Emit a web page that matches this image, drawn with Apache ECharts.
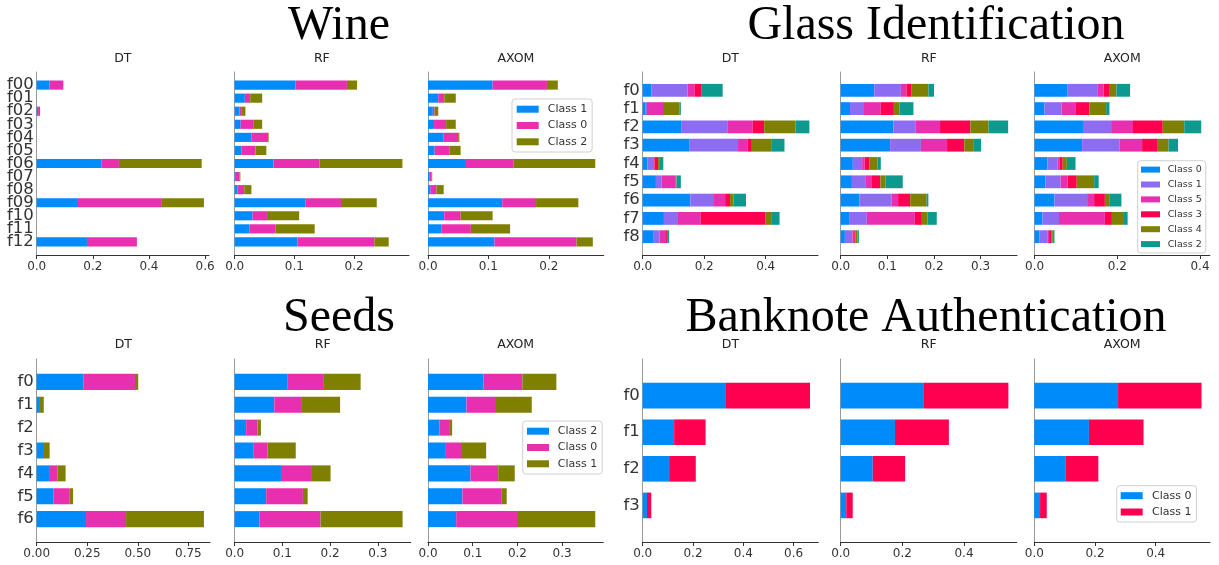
<!DOCTYPE html>
<html>
<head>
<meta charset="utf-8">
<script src="https://cdn.jsdelivr.net/npm/echarts@6/dist/echarts.min.js"></script>
<style>
html, body { margin: 0; padding: 0; background: #fff; }
#chart { width: 1219px; height: 565px; }
</style>
</head>
<body>
<div id="chart"></div>
<script>
// ---------- data: per-class feature importance, one inner list per class ----------
const modelNames = ['DT', 'RF', 'AXOM'];

// Wine
const wineFeatures = ['f00', 'f01', 'f02', 'f03', 'f04', 'f05', 'f06', 'f07', 'f08', 'f09', 'f10', 'f11', 'f12'];
const wineClasses = ['Class 1', 'Class 0', 'Class 2'];
const wineDT = [
  [0.046, 0, 0.005, 0, 0, 0, 0.230, 0, 0, 0.147, 0, 0, 0.179],
  [0.049, 0, 0.007, 0, 0, 0, 0.063, 0, 0, 0.299, 0, 0, 0.178],
  [0, 0, 0, 0, 0, 0, 0.295, 0, 0, 0.150, 0, 0, 0]
];
const wineRF = [
  [0.102, 0.017, 0.008, 0.010, 0.028, 0.011, 0.065, 0.002, 0.005, 0.119, 0.030, 0.025, 0.105],
  [0.086, 0.009, 0.004, 0.021, 0.028, 0.024, 0.077, 0.006, 0.011, 0.059, 0.024, 0.043, 0.129],
  [0.017, 0.020, 0.006, 0.015, 0.001, 0.018, 0.139, 0.0015, 0.012, 0.060, 0.054, 0.066, 0.024]
];
const wineAXOM = [
  [0.107, 0.017, 0.008, 0.010, 0.026, 0.011, 0.063, 0.002, 0.004, 0.123, 0.027, 0.022, 0.110],
  [0.090, 0.010, 0.003, 0.020, 0.024, 0.025, 0.079, 0.004, 0.010, 0.056, 0.027, 0.049, 0.136],
  [0.018, 0.019, 0.006, 0.016, 0.002, 0.018, 0.135, 0.001, 0.012, 0.070, 0.053, 0.065, 0.027]
];

// Glass Identification
const glassFeatures = ['f0', 'f1', 'f2', 'f3', 'f4', 'f5', 'f6', 'f7', 'f8'];
const glassClasses = ['Class 0', 'Class 1', 'Class 5', 'Class 3', 'Class 4', 'Class 2'];
const glassDT = [
  [0.029, 0.008, 0.125, 0.151, 0.015, 0.043, 0.155, 0.069, 0.036],
  [0.117, 0.006, 0.150, 0.159, 0.022, 0.019, 0.074, 0.043, 0.019],
  [0.022, 0.052, 0.083, 0.032, 0.001, 0.045, 0.039, 0.077, 0.021],
  [0.024, 0, 0.037, 0.013, 0.012, 0.002, 0.016, 0.211, 0.003],
  [0, 0.054, 0.102, 0.065, 0.006, 0.001, 0.011, 0.020, 0.003],
  [0.068, 0.004, 0.045, 0.041, 0.011, 0.014, 0.041, 0.025, 0.004]
];
const glassRF = [
  [0.072, 0.020, 0.113, 0.106, 0.026, 0.024, 0.040, 0.018, 0.009],
  [0.057, 0.030, 0.048, 0.066, 0.020, 0.030, 0.069, 0.038, 0.016],
  [0.012, 0.036, 0.052, 0.056, 0.005, 0.013, 0.014, 0.103, 0.004],
  [0.010, 0.028, 0.065, 0.037, 0.010, 0.018, 0.026, 0.015, 0.003],
  [0.037, 0.012, 0.039, 0.019, 0.018, 0.011, 0.035, 0.012, 0.004],
  [0.012, 0.030, 0.042, 0.017, 0.007, 0.037, 0.004, 0.020, 0.003]
];
const glassAXOM = [
  [0.080, 0.024, 0.117, 0.115, 0.031, 0.026, 0.048, 0.019, 0.012],
  [0.073, 0.041, 0.068, 0.090, 0.025, 0.037, 0.079, 0.040, 0.020],
  [0.014, 0.035, 0.053, 0.055, 0.004, 0.017, 0.017, 0.111, 0.003],
  [0.013, 0.033, 0.072, 0.038, 0.008, 0.022, 0.026, 0.017, 0.005],
  [0.018, 0.040, 0.052, 0.026, 0.010, 0.042, 0.012, 0.027, 0.004],
  [0.033, 0.008, 0.041, 0.023, 0.021, 0.011, 0.028, 0.011, 0.004]
];

// Seeds
const seedsFeatures = ['f0', 'f1', 'f2', 'f3', 'f4', 'f5', 'f6'];
const seedsClasses = ['Class 2', 'Class 0', 'Class 1'];
const seedsDT = [
  [0.232, 0.016, 0, 0.031, 0.061, 0.084, 0.244],
  [0.254, 0, 0, 0, 0.041, 0.077, 0.198],
  [0.016, 0.019, 0, 0.033, 0.041, 0.019, 0.385]
];
const seedsRF = [
  [0.110, 0.083, 0.024, 0.040, 0.097, 0.066, 0.052],
  [0.077, 0.058, 0.024, 0.029, 0.065, 0.077, 0.128],
  [0.077, 0.080, 0.007, 0.059, 0.039, 0.010, 0.172]
];
const seedsAXOM = [
  [0.124, 0.086, 0.026, 0.040, 0.095, 0.077, 0.063],
  [0.087, 0.066, 0.023, 0.036, 0.062, 0.088, 0.136],
  [0.076, 0.080, 0.005, 0.054, 0.037, 0.011, 0.175]
];

// Banknote Authentication
const banknoteFeatures = ['f0', 'f1', 'f2', 'f3'];
const banknoteClasses = ['Class 0', 'Class 1'];
const banknoteDT = [
  [0.331, 0.125, 0.105, 0.017],
  [0.334, 0.125, 0.106, 0.017]
];
const banknoteRF = [
  [0.270, 0.176, 0.104, 0.018],
  [0.274, 0.175, 0.105, 0.021]
];
const banknoteAXOM = [
  [0.276, 0.180, 0.104, 0.019],
  [0.275, 0.180, 0.107, 0.022]
];

// ---------- styling ----------
const C = {
  blue: '#008bfb', purple: '#8c6cf0', pink: '#e82fb0',
  red: '#ff0051', olive: '#808000', teal: '#0b9a8d'
};
const FONT = 'DejaVu Sans';
const SERIF = 'Liberation Serif';

// grid rows (top, height) and text rows for the headings
const ROWS = [{ top: 72, height: 183, titleY: 59, headY: 26 },
              { top: 359, height: 183, titleY: 345, headY: 318 }];

const panels = [
  { title: 'Wine', center: 339, row: 0, features: wineFeatures, classes: wineClasses,
    colors: [C.blue, C.pink, C.olive], models: [wineDT, wineRF, wineAXOM],
    lefts: [36.7, 234.7, 428], widths: [172.3, 174.3, 175.7],
    maxes: [0.614, 0.292, 0.291], steps: [0.2, 0.1, 0.1],
    legend: { left: 512, top: 99, iw: 22, ih: 7, fs: 11, gap: 5.3, pad: [4.7, 5, 4.7, 4.7], tpad: 4 } },
  { title: 'Glass Identification', center: 936, row: 0, features: glassFeatures, classes: glassClasses,
    colors: [C.blue, C.purple, C.pink, C.red, C.olive, C.teal], models: [glassDT, glassRF, glassAXOM],
    lefts: [642.7, 840.7, 1034.6], widths: [175.3, 176.3, 175.3],
    maxes: [0.570, 0.378, 0.424], steps: [0.2, 0.1, 0.2],
    legend: { left: 1137.7, top: 160.7, iw: 19, ih: 6, fs: 9.5, gap: 4.9, pad: [3.9, 4, 3.9, 3.3], tpad: 2.7 } },
  { title: 'Seeds', center: 339, row: 1, features: seedsFeatures, classes: seedsClasses,
    colors: [C.blue, C.pink, C.olive], models: [seedsDT, seedsRF, seedsAXOM],
    lefts: [36.7, 234.7, 428], widths: [173.3, 176, 175.3],
    maxes: [0.857, 0.369, 0.392], steps: [0.25, 0.1, 0.1],
    legend: { left: 522.7, top: 421, iw: 22, ih: 7, fs: 11, gap: 5.3, pad: [4.7, 5, 4.7, 4.3], tpad: 3.7 } },
  { title: 'Banknote Authentication', center: 926, row: 1, features: banknoteFeatures, classes: banknoteClasses,
    colors: [C.blue, C.red], models: [banknoteDT, banknoteRF, banknoteAXOM],
    lefts: [642.7, 840.7, 1034.3], widths: [175.6, 176, 175.7],
    maxes: [0.698, 0.571, 0.579], steps: [0.2, 0.2, 0.2],
    legend: { left: 1116.7, top: 485.7, iw: 22, ih: 7, fs: 11, gap: 5.3, pad: [4.5, 5, 4.5, 4], tpad: 4.3 } }
];

// ---------- option assembly ----------
const grid = [], xAxis = [], yAxis = [], series = [], legend = [], graphic = [];

panels.forEach(function (p) {
  const row = ROWS[p.row];
  const n = p.features.length;
  const band = row.height / (n + 1);
  const barWidth = band * 0.7;

  graphic.push({
    type: 'text', x: p.center, y: row.headY, silent: true,
    style: { text: p.title, font: '48px "' + SERIF + '"', fill: '#000',
             align: 'center', verticalAlign: 'middle' }
  });

  p.models.forEach(function (model, m) {
    const g = grid.length;
    const left = p.lefts[m], width = p.widths[m], max = p.maxes[m], step = p.steps[m];
    const decimals = step === 0.25 ? 2 : 1;
    const ticks = [];
    for (let k = 0; k * step <= max + 1e-9; k++) ticks.push(+(k * step).toFixed(4));

    grid.push({ left: left, top: row.top, width: width, height: row.height, containLabel: false });

    xAxis.push({
      gridIndex: g, type: 'value', min: 0, max: max,
      axisLine: { show: true, lineStyle: { color: '#333', width: 1 } },
      axisTick: { show: true, length: 4, lineStyle: { color: '#333' }, customValues: ticks },
      axisLabel: { customValues: ticks, color: '#333', fontSize: 12, fontFamily: FONT, margin: 6,
                   formatter: function (v) { return (+v).toFixed(decimals); } },
      splitLine: { show: false }
    });

    yAxis.push({
      gridIndex: g, type: 'category', inverse: true, boundaryGap: false,
      data: [''].concat(p.features, ['']),
      axisLine: { show: true, lineStyle: { color: '#9a9a9a', width: 1 } },
      axisTick: { show: false },
      axisLabel: { show: m === 0, interval: 0, color: '#333', fontSize: 16.5, fontFamily: FONT, margin: 3 },
      splitLine: { show: false }
    });

    graphic.push({
      type: 'text', x: left + width / 2, y: row.titleY, silent: true,
      style: { text: modelNames[m], font: '12.5px "' + FONT + '"', fill: '#222',
               align: 'center', verticalAlign: 'middle' }
    });

    model.forEach(function (vals, c) {
      series.push({
        type: 'bar', name: p.classes[c], xAxisIndex: g, yAxisIndex: g,
        stack: 'stack' + g, barWidth: barWidth,
        data: ['-'].concat(vals, ['-']),
        itemStyle: { color: p.colors[c] },
        emphasis: { disabled: true }, silent: true
      });
    });
  });

  const L = p.legend;
  legend.push({
    orient: 'vertical', left: L.left, top: L.top,
    itemWidth: L.iw, itemHeight: L.ih, itemGap: L.gap,
    padding: L.pad, backgroundColor: '#fff', borderColor: '#d0d0d0', borderWidth: 1, borderRadius: 3,
    selectedMode: false, icon: 'rect',
    textStyle: { fontSize: L.fs, color: '#333', fontFamily: FONT, padding: [0, 0, 0, L.tpad] },
    data: p.classes.map(function (name, i) { return { name: name, itemStyle: { color: p.colors[i] } }; })
  });
});

const chart = echarts.init(document.getElementById('chart'), null, { renderer: 'canvas' });
chart.setOption({
  animation: false,
  backgroundColor: '#fff',
  grid: grid, xAxis: xAxis, yAxis: yAxis, series: series, legend: legend, graphic: graphic,
  tooltip: { show: false }
});
</script>
</body>
</html>
